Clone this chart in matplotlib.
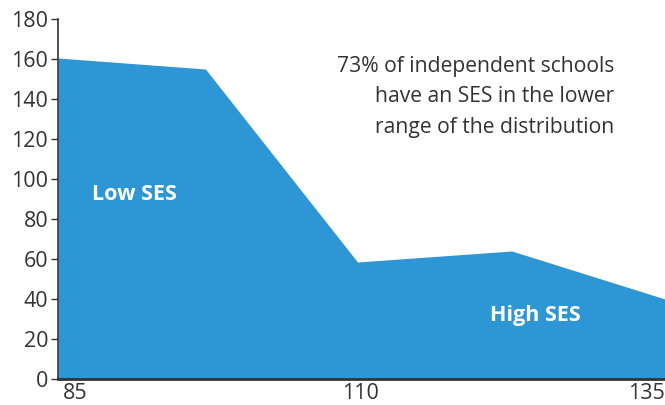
import matplotlib
matplotlib.use("Agg")
import matplotlib.pyplot as plt

# SES score vs number of schools
ses = [83.5, 96.4, 109.7, 123.2, 136.6]
schools = [160.5, 155, 58.5, 64, 40]
xticks = [85, 110, 135]
yticks = [0, 20, 40, 60, 80, 100, 120, 140, 160, 180]

plt.rcParams['font.family'] = ['Open Sans', 'DejaVu Sans']
dark = '#333333'
blue = '#2E96D4'

fig = plt.figure(figsize=(6.65, 4.05), dpi=100)
ax = fig.add_axes([58/665, 26/405, 1 - 58/665, 360/405])

ax.fill_between(ses, schools, 0, color=blue, linewidth=0)
ax.set_xlim(83.5, 136.6)
ax.set_ylim(0, 180)
ax.set_xticks(xticks)
ax.set_yticks(yticks)
ax.tick_params(axis='y', length=5, width=1, color=dark, labelcolor=dark, labelsize=15.5, pad=2)
ax.tick_params(axis='x', length=0, labelcolor=dark, labelsize=15.5, pad=3)

for s in ['top', 'right']:
    ax.spines[s].set_visible(False)
ax.spines['left'].set_color(dark)
ax.spines['left'].set_linewidth(1.2)
ax.spines['bottom'].set_color(dark)
ax.spines['bottom'].set_linewidth(2)

ax.text(86.5, 92, 'Low SES', color='white', fontsize=15.5, fontweight='bold', va='center')
ax.text(121.3, 31.5, 'High SES', color='white', fontsize=15.5, fontweight='bold', va='center')
ax.text(132.2, 141, '73% of independent schools\nhave an SES in the lower\nrange of the distribution',
        ha='right', va='center', fontsize=15.2, color=dark, linespacing=1.6)

fig.savefig('out.png', dpi=100)
